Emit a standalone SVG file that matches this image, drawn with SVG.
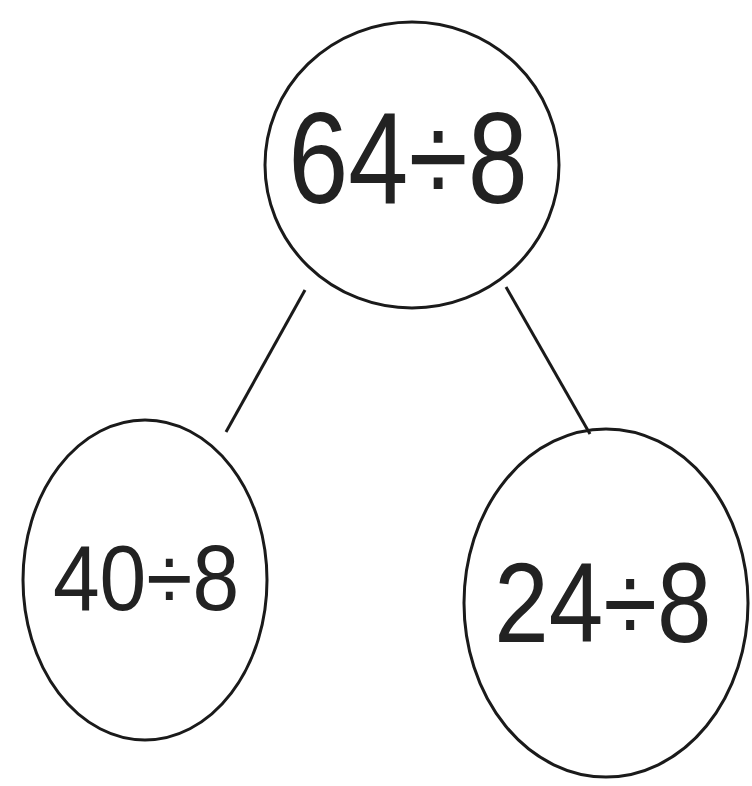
<svg xmlns="http://www.w3.org/2000/svg" width="752" height="786" viewBox="0 0 752 786">
<style>
.n{fill:none;stroke:#1a1a1a;stroke-width:3}
.c{stroke:#1a1a1a;stroke-width:3;fill:none}
.t{font-family:"Liberation Sans",Arial,sans-serif;fill:#222;text-anchor:middle}
</style>
<rect width="752" height="786" fill="#ffffff"/>
<g id="connectors">
<path class="c" d="M305 290 L226 432"/>
<path class="c" d="M506 287 L590 434"/>
</g>
<g id="node-top">
<ellipse class="n" cx="412" cy="165" rx="147" ry="143"/>
<text class="t" x="408" y="203" font-size="108" transform="translate(408 203) scale(1 1.2) translate(-408 -203)">64÷8</text>
</g>
<g id="node-left">
<ellipse class="n" cx="145" cy="580" rx="122" ry="160"/>
<text class="t" x="146" y="610" font-size="84" transform="translate(146 610) scale(1 1.1) translate(-146 -610)">40÷8</text>
</g>
<g id="node-right">
<ellipse class="n" cx="606" cy="603" rx="142" ry="174"/>
<text class="t" x="603" y="642" font-size="98" transform="translate(603 642) scale(1 1.15) translate(-603 -642)">24÷8</text>
</g>
</svg>
